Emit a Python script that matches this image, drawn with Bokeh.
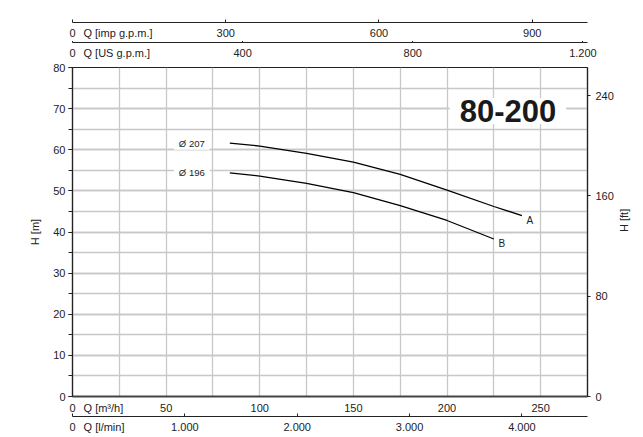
import math
from bokeh.plotting import figure
from bokeh.models import Range1d, LinearAxis, FixedTicker, SingleIntervalTicker, Label
from bokeh.layouts import column
from bokeh.embed import file_html
from bokeh.resources import INLINE

# ---------------- data ----------------
curve_a_q = [84, 100, 125, 150, 175, 200, 225, 240]          # m3/h
curve_a_h = [61.6, 60.9, 59.1, 57.0, 54.0, 50.2, 46.2, 44.0]  # m
curve_b_q = [84, 100, 125, 150, 175, 200, 225]
curve_b_h = [54.4, 53.6, 51.8, 49.6, 46.4, 42.8, 38.3]
curve_a_name = "A"
curve_b_name = "B"
curve_a_diam = "Ø 207"
curve_b_diam = "Ø 196"
title_text = "80-200"

q_max = 275          # m3/h
h_max = 80           # m
imp_per_m3h = 3.6662
us_per_m3h = 4.4029
lmin_per_m3h = 16.6667
ft_per_m = 3.28084

m3h_ticks = [0, 50, 100, 150, 200, 250]
m3h_labels = ["0", "50", "100", "150", "200", "250"]
lmin_ticks = [0, 1000, 2000, 3000, 4000]
lmin_labels = ["0", "1.000", "2.000", "3.000", "4.000"]
imp_ticks = [0, 300, 600, 900]
imp_labels = ["0", "300", "600", "900"]
us_ticks = [0, 400, 800, 1200]
us_labels = ["0", "400", "800", "1.200"]
ft_ticks = [0, 80, 160, 240]

# ---------------- style ----------------
FONT = "Liberation Sans"
TXT = "#222222"
LINE = "#222222"
GRID = "#c8c8c8"
FW, FH = 515, 329
BL, BR = 72, 55


def style_axis(ax, size="11px"):
    ax.major_label_text_font = FONT
    ax.major_label_text_font_size = size
    ax.major_label_text_color = TXT
    ax.axis_label_text_font = FONT
    ax.axis_label_text_font_size = size
    ax.axis_label_text_font_style = "normal"
    ax.axis_label_text_color = TXT
    ax.axis_line_color = LINE
    ax.major_tick_line_color = LINE
    ax.minor_tick_line_color = LINE
    ax.minor_tick_in = 0
    ax.minor_tick_out = 0


def q_axis(ax, ticks, labels, title, title_px, xmax, standoff, tick_in=3,
           width=1.2, color=LINE):
    """axis line, tick marks at the real ticks, and the tick labels plus the
    quantity name written on one row under the line"""
    style_axis(ax)
    xc = round(title_px * xmax / FW, 3)
    overrides = {t: l for t, l in zip(ticks, labels)}
    overrides[xc] = title
    ax.ticker = FixedTicker(ticks=[ticks[0], xc] + list(ticks[1:]), minor_ticks=list(ticks))
    ax.major_label_overrides = overrides
    ax.major_tick_line_color = None
    ax.major_tick_in = 0
    ax.major_tick_out = 0
    ax.minor_tick_in = tick_in
    ax.minor_tick_out = 0
    ax.major_label_standoff = standoff
    ax.axis_line_width = width
    ax.axis_line_color = color


def strip(xmax, ticks, labels, title, title_px, top):
    s = figure(frame_width=FW, frame_height=1, x_range=Range1d(0, xmax), y_range=Range1d(0, 1),
               output_backend="svg", toolbar_location=None, x_axis_location="below",
               y_axis_location=None, min_border_left=BL, min_border_right=BR,
               min_border_top=top, min_border_bottom=19, outline_line_color=None)
    s.grid.visible = False
    q_axis(s.xaxis[0], ticks, labels, title, title_px, xmax, 4)
    return s


s_imp = strip(q_max * imp_per_m3h, imp_ticks, imp_labels, "Q [imp g.p.m.]", 45.5, 21)
s_us = strip(q_max * us_per_m3h, us_ticks, us_labels, "Q [US g.p.m.]", 44.3, 0)

p = figure(frame_width=FW, frame_height=FH, x_range=Range1d(0, q_max), y_range=Range1d(0, h_max),
           output_backend="svg", toolbar_location=None, min_border_left=BL, min_border_right=BR,
           min_border_top=6, min_border_bottom=39, outline_line_color=LINE, outline_line_width=1.2)
p.extra_y_ranges = {"ft": Range1d(0, h_max * ft_per_m)}
p.extra_x_ranges = {"lmin": Range1d(0, q_max * lmin_per_m3h)}

# left axis H [m]
yax = p.yaxis[0]
style_axis(yax)
yax.ticker = SingleIntervalTicker(interval=10, num_minor_ticks=2)
yax.axis_label = "H [m]"
yax.major_tick_out = 4
yax.major_tick_in = 0
yax.minor_tick_out = 4
yax.minor_tick_in = 0
yax.major_label_standoff = 3
yax.axis_label_standoff = 9
yax.axis_line_width = 1.2

# bottom axis m3/h
q_axis(p.xaxis[0], m3h_ticks, m3h_labels, "Q [m³/h]", 30.9, q_max, 5,
       tick_in=0, width=2.2, color="#444444")

# grids
p.xgrid.ticker = SingleIntervalTicker(interval=25)
p.xgrid.grid_line_color = GRID
p.xgrid.grid_line_width = 1.3
p.ygrid.grid_line_color = GRID
p.ygrid.grid_line_width = 1.3
p.ygrid.minor_grid_line_color = GRID
p.ygrid.minor_grid_line_width = 1.3

# right axis H [ft]
rax = LinearAxis(y_range_name="ft", ticker=FixedTicker(ticks=ft_ticks), axis_label="H [ft]")
style_axis(rax)
rax.major_tick_out = 3
rax.major_tick_in = 0
rax.major_label_standoff = 5
rax.axis_label_standoff = 7
rax.axis_label_orientation = math.pi / 2
rax.axis_line_width = 1.2
p.add_layout(rax, "right")

# second bottom axis l/min
lax = LinearAxis(x_range_name="lmin")
q_axis(lax, lmin_ticks, lmin_labels, "Q [l/min]", 31.5, q_max * lmin_per_m3h, 4)
p.add_layout(lax, "below")

# curves
p.line(curve_a_q, curve_a_h, line_color="black", line_width=1.3)
p.line(curve_b_q, curve_b_h, line_color="black", line_width=1.3)

for qs, hs, diam, name in ((curve_a_q, curve_a_h, curve_a_diam, curve_a_name),
                           (curve_b_q, curve_b_h, curve_b_diam, curve_b_name)):
    p.add_layout(Label(x=qs[0], y=hs[0], x_offset=-38, text=diam, text_font=FONT,
                       text_font_size="9.5px", text_color=TXT, text_align="center",
                       text_baseline="middle", background_fill_color="white", padding=(5, 1)))
    p.add_layout(Label(x=qs[-1], y=hs[-1], x_offset=8, y_offset=-5, text=name, text_font=FONT,
                       text_font_size="10px", text_color=TXT, text_align="center",
                       text_baseline="middle"))

# model title box
p.add_layout(Label(x=232.5, y=69.4, text=title_text, text_font=FONT, text_font_size="31px",
                   text_font_style="bold", text_color="#1a1a1a", text_align="center",
                   text_baseline="middle", background_fill_color="white", padding=(10, 2)))

layout = column(s_imp, s_us, p, spacing=0)
open("out.html", "w").write(file_html(layout, INLINE))
